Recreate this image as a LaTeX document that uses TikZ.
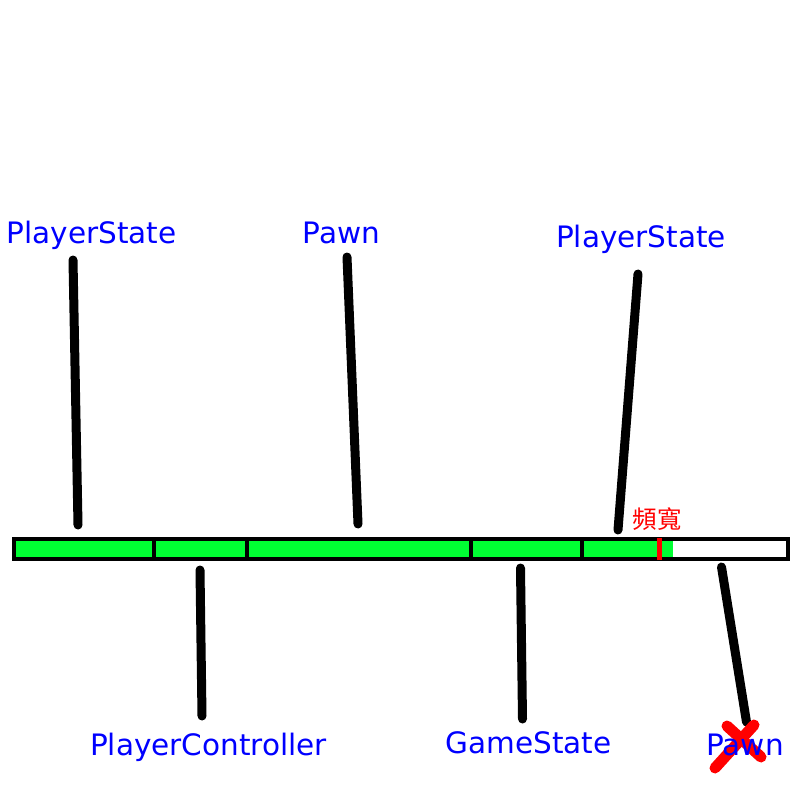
\documentclass[tikz,border=0pt]{standalone}
\usepackage{fontspec}
\setmainfont{DejaVu Sans}
\newfontfamily\cjk{Noto Sans CJK TC}
\definecolor{barGreen}{RGB}{0,255,51}
\tikzset{
  mark line/.style={line width=9pt, line cap=round},
  label/.style={text=blue, anchor=base, inner sep=0pt, font=\fontsize{29.5}{35}\selectfont},
}
\begin{document}
\begin{tikzpicture}[x=1pt, y=-1pt]
    \useasboundingbox (0,0) rectangle (800,800);
    % the bar
    \fill[barGreen] (16,541) rectangle (673,557);
    \draw[line width=4pt] (14,539) rectangle (788,559);
    \foreach \x in {153.5,247,470.5,581.7} \draw[line width=4pt] (\x,539) -- (\x,559);
    \draw[red, line width=5pt] (659,538) -- (659,560);
    \node[text=red, anchor=base, inner sep=0pt, font=\cjk\fontsize{24.5}{28}\selectfont] (bw) at (657,528) {頻寬};
    % marks above
    \coordinate (a1) at (73,260);  \coordinate (a2) at (78,525);
    \coordinate (b1) at (347,257); \coordinate (b2) at (358,524);
    \coordinate (c1) at (638,274); \coordinate (c2) at (618,530);
    % marks below
    \coordinate (d1) at (200,570); \coordinate (d2) at (202,716);
    \coordinate (e1) at (520.5,568); \coordinate (e2) at (522.5,719);
    \coordinate (f1) at (721.5,567); \coordinate (f2) at (746.5,722);
    \foreach \p in {a,b,c,d,e,f} \draw[mark line] (\p1) -- (\p2);
    % crossed out
    \draw[red, line width=11pt, line cap=round] (727,726) -- (761,757);
    \draw[red, line width=11pt, line cap=round] (754,725) -- (715,768);
    \node[label] (ps1) at (91.5,243) {PlayerState};
    \node[label] (pw1) at (341.5,243) {Pawn};
    \node[label] (ps2) at (641,247) {PlayerState};
    \node[label] (pc) at (208.5,755) {PlayerController};
    \node[label] (gs) at (528.5,753) {GameState};
    \node[label] (pw2) at (745,755) {Pawn};
\end{tikzpicture}
\end{document}
